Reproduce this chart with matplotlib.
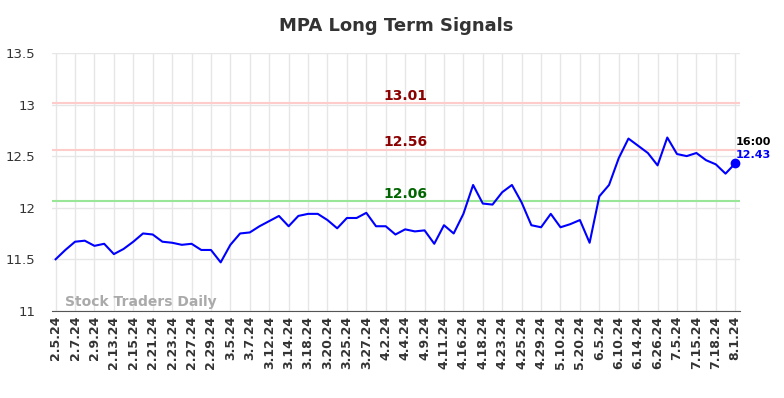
import matplotlib as mpl
mpl.use('Agg')
import matplotlib.pyplot as plt

# tick labels (every second trading day is labelled)
tick_labels = ['2.5.24', '2.7.24', '2.9.24', '2.13.24', '2.15.24', '2.21.24', '2.23.24',
               '2.27.24', '2.29.24', '3.5.24', '3.7.24', '3.12.24', '3.14.24', '3.18.24',
               '3.20.24', '3.25.24', '3.27.24', '4.2.24', '4.4.24', '4.9.24', '4.11.24',
               '4.16.24', '4.18.24', '4.23.24', '4.25.24', '4.29.24', '5.10.24', '5.20.24',
               '6.5.24', '6.10.24', '6.14.24', '6.26.24', '7.5.24', '7.15.24', '7.18.24',
               '8.1.24']

prices = [11.50, 11.59, 11.67, 11.68, 11.63, 11.65, 11.55, 11.60, 11.67, 11.75,
          11.74, 11.67, 11.66, 11.64, 11.65, 11.59, 11.59, 11.47, 11.64, 11.75,
          11.76, 11.82, 11.87, 11.92, 11.82, 11.92, 11.94, 11.94, 11.88, 11.80,
          11.90, 11.90, 11.95, 11.82, 11.82, 11.74, 11.79, 11.77, 11.78, 11.65,
          11.83, 11.75, 11.94, 12.22, 12.04, 12.03, 12.15, 12.22, 12.05, 11.83,
          11.81, 11.94, 11.81, 11.84, 11.88, 11.66, 12.11, 12.22, 12.48, 12.67,
          12.60, 12.53, 12.41, 12.68, 12.52, 12.50, 12.53, 12.46, 12.42, 12.33,
          12.43]

signal_levels = [13.01, 12.56, 12.06]
signal_colors = ['#ffcccc', '#ffcccc', '#99e699']
signal_text_colors = ['#8b0000', '#8b0000', '#006400']

yticks = [11, 11.5, 12, 12.5, 13, 13.5]
ytick_labels = ['11', '11.5', '12', '12.5', '13', '13.5']

last_time = '16:00'

fig = plt.figure(figsize=(7.84, 3.98), dpi=100)
ax = fig.add_axes([0.066, 0.219, 0.878, 0.648])

x = list(range(len(prices)))
ax.plot(x, prices, color='#0000ff', lw=1.5, zorder=3)
ax.plot(x[-1], prices[-1], 'o', color='#0000ff', ms=6, zorder=4)

for lvl, c, tc in zip(signal_levels, signal_colors, signal_text_colors):
    ax.axhline(lvl, color=c, lw=1.5, zorder=2)
    ax.text(36, lvl + 0.005, '%.2f' % lvl, color=tc, fontsize=10, fontweight='bold',
            ha='center', va='bottom')

ax.text(x[-1], prices[-1] + 0.16, last_time, color='black', fontsize=8, fontweight='bold',
        ha='left', va='bottom')
ax.text(x[-1], prices[-1] + 0.03, '%.2f' % prices[-1], color='#0000ff', fontsize=8,
        fontweight='bold', ha='left', va='bottom')

ax.text(1, 11.02, 'Stock Traders Daily', color='#aaaaaa', fontsize=10,
        fontweight='bold', ha='left', va='bottom')

ax.set_xlim(-0.4, 70.5)
ax.set_ylim(11, 13.5)
ax.set_yticks(yticks)
ax.set_yticklabels(ytick_labels)
ax.set_xticks(x[::2])
ax.set_xticklabels(tick_labels, rotation=90, fontsize=9, fontweight='bold')
ax.tick_params(axis='both', length=0, colors='#333333')
ax.tick_params(axis='y', labelsize=9.5, pad=12)

ax.grid(True, color='#e6e6e6', lw=1)
ax.set_axisbelow(True)
for s in ['top', 'right', 'left']:
    ax.spines[s].set_visible(False)
ax.spines['bottom'].set_color('#555555')

ax.set_title('MPA Long Term Signals', fontsize=13, fontweight='bold', color='#333333', pad=16)

fig.savefig('out.png', dpi=100)
